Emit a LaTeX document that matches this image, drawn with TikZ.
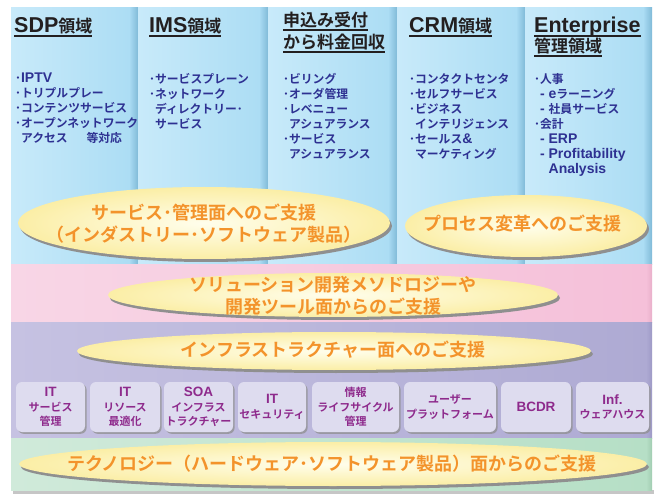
\documentclass[tikz,border=0pt]{standalone}
\usepackage{fontspec}
\setmainfont{Noto Sans CJK JP}[BoldFont={Noto Sans CJK JP Bold}]
\newfontfamily\lat{Liberation Sans}
\usetikzlibrary{shadows}
\definecolor{blueL}{HTML}{C8EAFA}
\definecolor{blueM}{HTML}{ACDDF4}
\definecolor{blueD}{HTML}{80BAD8}
\definecolor{pinkL}{HTML}{F8D6E6}
\definecolor{pinkR}{HTML}{F5C0D9}
\definecolor{pinkD}{HTML}{E9B0CA}
\definecolor{purL}{HTML}{C6C2E2}
\definecolor{purR}{HTML}{AEAAD3}
\definecolor{purD}{HTML}{9E9AC6}
\definecolor{grnL}{HTML}{D0EADA}
\definecolor{grnR}{HTML}{B6DFC6}
\definecolor{grnD}{HTML}{A2CDB2}
\definecolor{ellIn}{HTML}{FFFEEC}
\definecolor{ellOut}{HTML}{FBEEA6}
\definecolor{orangeT}{HTML}{F3932B}
\definecolor{navyT}{HTML}{2E3192}
\definecolor{headT}{HTML}{231F20}
\definecolor{purT}{HTML}{8E2A8C}
\definecolor{boxF}{HTML}{DEDCEF}
\definecolor{shadowC}{HTML}{8F8F8F}
\newcommand\hul[1]{\setbox0\hbox{#1}\rlap{\rule[-3.6pt]{\wd0}{1.3pt}}\box0}
\newcommand\LT[1]{{\lat\fontsize{14}{15}\selectfont #1}}
\newcommand\LB[1]{{\lat\fontsize{13.5}{14.5}\selectfont #1}}
\newcommand\LH[1]{{\lat\fontsize{21.5}{24}\selectfont #1}}
\newcommand\bul{･}
\newcommand\ind{\phantom{･}}
\begin{document}
\begin{tikzpicture}[x=1pt,y=-1pt,
  ellshadow/.style={fill=shadowC},
  oval/.style={shade, inner color=ellIn, outer color=ellOut},
  ovaltext/.style={text=orangeT, font=\bfseries\fontsize{18}{22}\selectfont, align=center, inner sep=0},
  head/.style={text=headT, font=\bfseries\fontsize{17}{22}\selectfont, anchor=base west, inner sep=0},
  headj/.style={head, font=\bfseries\fontsize{17}{22}\selectfont},
  bullets/.style={text=navyT, font=\bfseries\fontsize{11.8}{15}\selectfont, anchor=north west, inner sep=0, align=left},
  itembox/.style={fill=boxF, rounded corners=6pt, minimum height=50pt, inner sep=0, text=purT,
    font=\bfseries\fontsize{11}{14.5}\selectfont, align=center,
    drop shadow={shadow xshift=1.6pt, shadow yshift=-1.8pt, fill=shadowC, opacity=0.75}}
]
\useasboundingbox (0,0) rectangle (656,494);
\fill[white] (0,0) rectangle (656,494);
% bands
\fill[gray!45] (13,490) rectangle (654,493.5);
\foreach \a/\b in {11/138,138/268,268/397,397/525,525/652}{
  \fill[left color=blueL, right color=blueM] (\a,8) rectangle (\b-9,265);
  \fill[left color=blueM, right color=blueD] (\b-9,8) rectangle (\b,265);
}
\fill[left color=pinkL, right color=pinkR] (11,265) rectangle (646,323);
\fill[left color=pinkR, right color=pinkD] (646,265) rectangle (652,323);
\fill[left color=purL, right color=purR] (11,323) rectangle (646,438);
\fill[left color=purR, right color=purD] (646,323) rectangle (652,438);
\fill[left color=grnL, right color=grnR] (11,438) rectangle (646,490);
\fill[left color=grnR, right color=grnD] (646,438) rectangle (652,490);
% headings
\node[head] (h1) at (14,33) {\hul{\LH{SDP}領域}};
\node[head] (h2) at (149,33) {\hul{\LH{IMS}領域}};
\node[headj] (h3a) at (283,27) {\hul{申込み受付}};
\node[headj] (h3b) at (283,49) {\hul{から料金回収}};
\node[head] (h4) at (409,33) {\hul{\LH{CRM}領域}};
\node[head] (h5a) at (534,33) {\hul{\LH{Enterprise}}};
\node[headj] (h5b) at (534,53) {\hul{管理領域}};
% bullet lists
\node[bullets] (c1) at (15,73) {\bul\LT{IPTV}\\\bul トリプルプレー\\\bul コンテンツサービス\\\bul オープンネットワーク\\\ind アクセス\hspace{1.6em}等対応};
\node[bullets] (c2) at (149,73) {\bul サービスプレーン\\\bul ネットワーク\\\ind ディレクトリー･\\\ind サービス};
\node[bullets] (c3) at (283,73) {\bul ビリング\\\bul オーダ管理\\\bul レベニュー\\\ind アシュアランス\\\bul サービス\\\ind アシュアランス};
\node[bullets] (c4) at (409,73) {\bul コンタクトセンタ\\\bul セルフサービス\\\bul ビジネス\\\ind インテリジェンス\\\bul セールス\LT{\&}\\\ind マーケティング};
\node[bullets] (c5) at (534,73) {\bul 人事\\\ind\LT{- e}ラーニング\\\ind\LT{- }社員サービス\\\bul 会計\\\ind\LT{- ERP}\\\ind\LT{- Profitability}\\\ind\LT{\phantom{- }Analysis}};
% ellipses
\fill[ellshadow] (206,226) ellipse [x radius=186, y radius=36];
\path[oval] (204,223) ellipse [x radius=186, y radius=36];
\node[ovaltext] (t1) at (204,224) {サービス･管理面へのご支援\\（インダストリー･ソフトウェア製品）};
\fill[ellshadow] (528,229) ellipse [x radius=121, y radius=31];
\path[oval] (526,226) ellipse [x radius=121, y radius=31];
\node[ovaltext] (t2) at (522,224) {プロセス変革へのご支援};
\fill[ellshadow] (335,298) ellipse [x radius=225, y radius=22];
\path[oval] (333,295) ellipse [x radius=225, y radius=22];
\node[ovaltext] (t3) at (333,296) {ソリューション開発メソドロジーや\\開発ツール面からのご支援};
\fill[ellshadow] (336,354) ellipse [x radius=257, y radius=19];
\path[oval] (334,351) ellipse [x radius=257, y radius=19];
\node[ovaltext] (t4) at (333,350) {インフラストラクチャー面へのご支援};
\fill[ellshadow] (335,467) ellipse [x radius=314, y radius=22];
\path[oval] (333,464) ellipse [x radius=314, y radius=22];
\node[ovaltext] (t5) at (332,464) {テクノロジー（ハードウェア･ソフトウェア製品）面からのご支援};
% boxes
\node[itembox, minimum width=69pt] (b1) at (50.5,407) {\LB{IT}\\サービス\\管理};
\node[itembox, minimum width=70pt] (b2) at (125,407) {\LB{IT}\\リソース\\最適化};
\node[itembox, minimum width=69pt] (b3) at (198.5,407) {\LB{SOA}\\インフラス\\トラクチャー};
\node[itembox, minimum width=68pt] (b4) at (272,407) {\LB{IT}\\セキュリティ};
\node[itembox, minimum width=87pt] (b5) at (355.5,407) {情報\\ライフサイクル\\管理};
\node[itembox, minimum width=92pt] (b6) at (450,407) {ユーザー\\プラットフォーム};
\node[itembox, minimum width=70pt] (b7) at (536,407) {\LB{BCDR}};
\node[itembox, minimum width=73pt] (b8) at (612.5,407) {\LB{Inf.}\\ウェアハウス};
\end{tikzpicture}
\end{document}
